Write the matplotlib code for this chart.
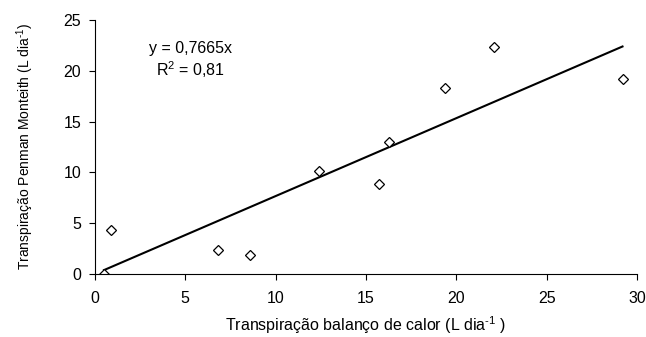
import matplotlib
matplotlib.use('Agg')
import matplotlib.pyplot as plt

plt.rcParams['font.family'] = ['Liberation Sans', 'DejaVu Sans']
plt.rcParams['mathtext.fontset'] = 'custom'
plt.rcParams['mathtext.rm'] = 'Liberation Sans'

# balanco de calor vs Penman-Monteith
x_bc = [0.5, 0.9, 6.8, 8.6, 12.4, 15.7, 16.3, 19.4, 22.1, 29.2]
y_pm = [0.0, 4.3, 2.35, 1.9, 10.1, 8.85, 12.95, 18.25, 22.3, 19.2]
slope = 0.7665
r2 = '0,81'
x_fit = [0.5, 29.2]

fig = plt.figure(figsize=(6.46, 3.37), dpi=100)
ax = fig.add_axes([0.147, 0.187, 0.839, 0.754])

ax.plot(x_fit, [slope * v for v in x_fit], 'k', lw=1.5)
ax.plot(x_bc, y_pm, 'D', mfc='white', mec='k', mew=0.9, ms=5.5, linestyle='none')

ax.set_xlim(0, 30)
ax.set_ylim(0, 25)
ax.set_xticks([0, 5, 10, 15, 20, 25, 30])
ax.set_yticks([0, 5, 10, 15, 20, 25])
for s in ['top', 'right']:
    ax.spines[s].set_visible(False)
ax.tick_params(direction='out', length=4, width=0.8, labelsize=11.5)
ax.tick_params(axis='x', pad=8)
ax.tick_params(axis='y', pad=6)

ax.text(5.3, 22.2, 'y = 0,7665x', ha='center', va='center', fontsize=11.5)
ax.text(5.3, 20.1, r'R$^2$ = ' + r2, ha='center', va='center', fontsize=11.5)

sup = r'$^{\mathregular{\text{-}1}}$'
ax.set_xlabel('Transpiração balanço de calor (L dia' + sup + ' )', fontsize=11.5, labelpad=6)
ax.set_ylabel('Transpiração Penman Monteith (L dia' + sup + ')', fontsize=10,
              family=['Liberation Sans Narrow', 'Liberation Sans'], labelpad=20)

fig.savefig('out.png', dpi=100)
